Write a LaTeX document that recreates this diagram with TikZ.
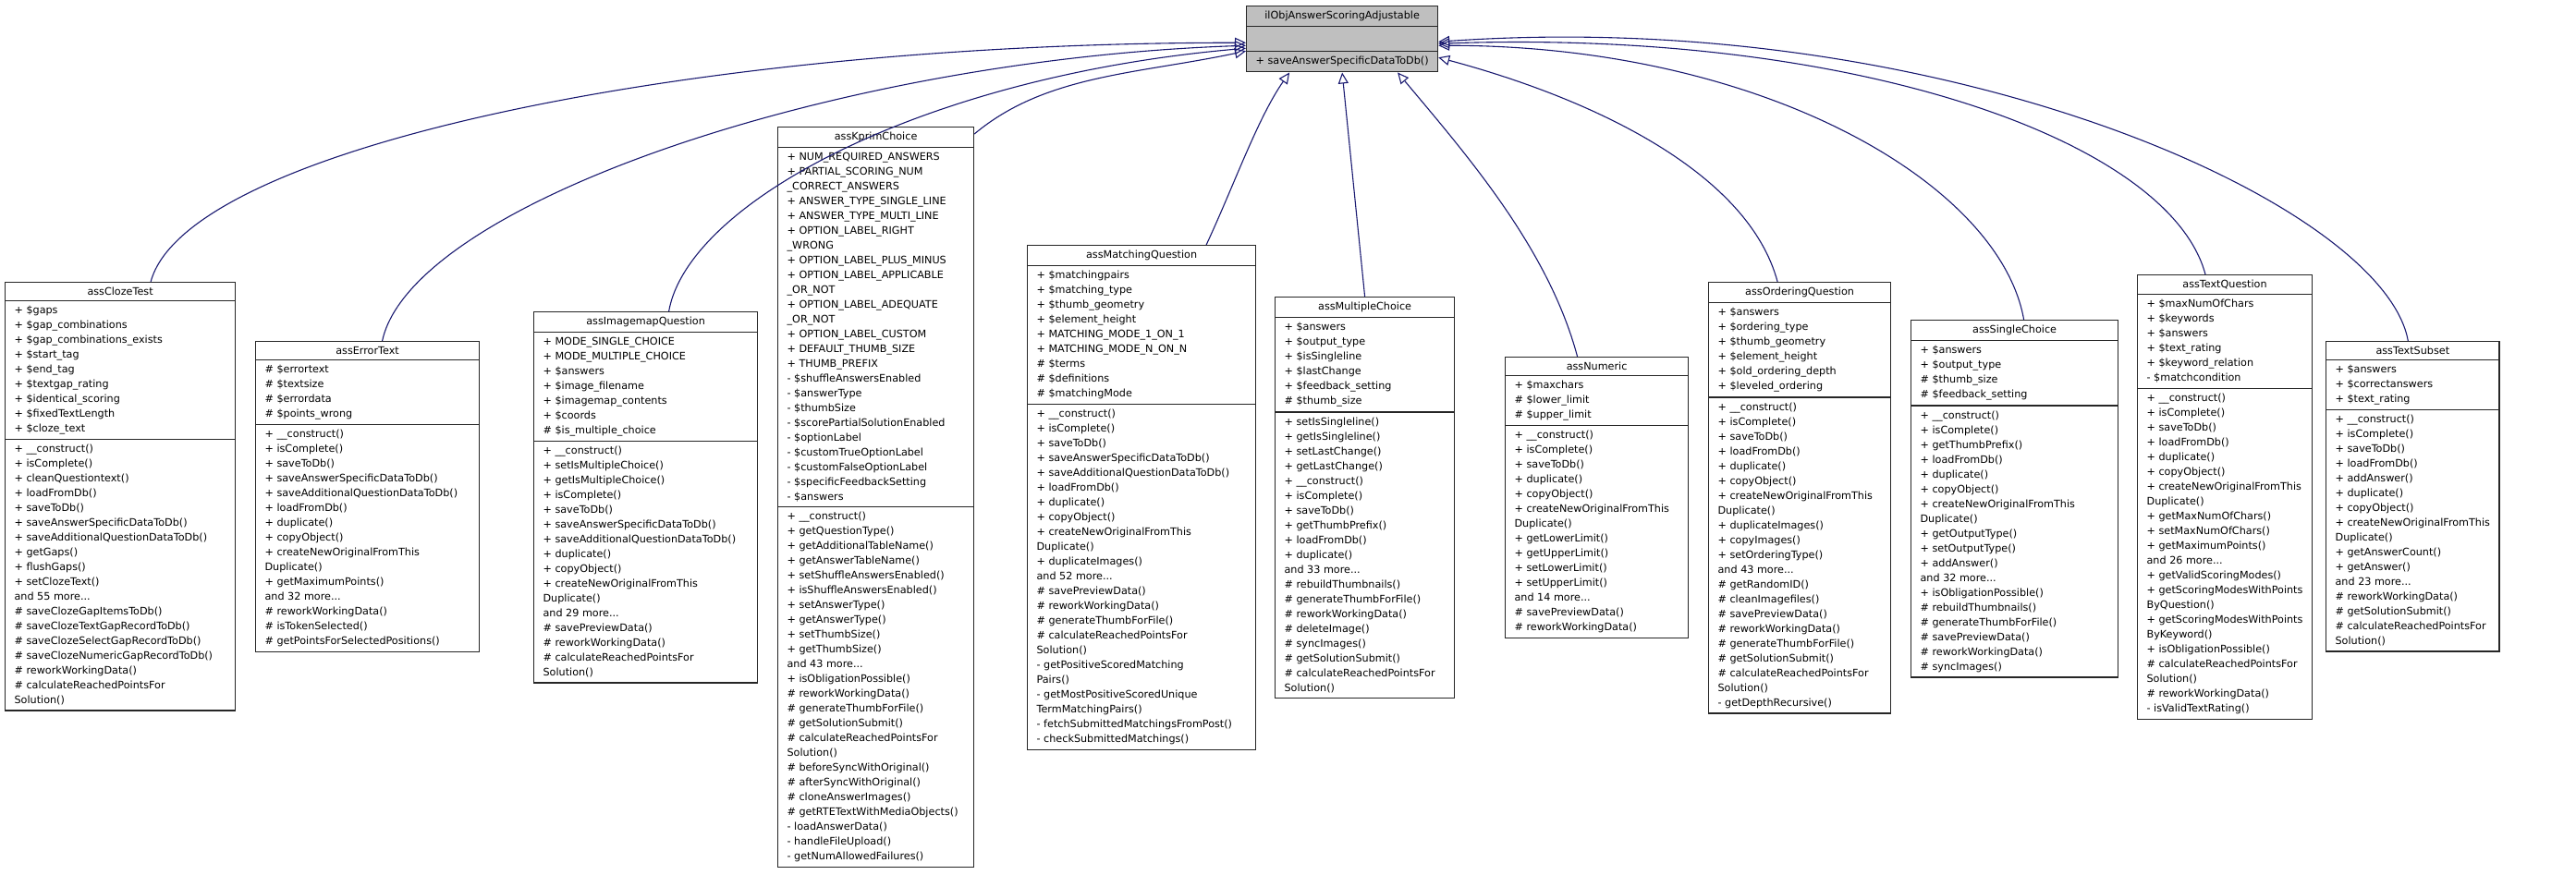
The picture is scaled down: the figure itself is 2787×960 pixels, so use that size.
\documentclass[tikz,border=0pt]{standalone}
\usepackage{fontspec}
\setmainfont{DejaVu Sans}
\usetikzlibrary{shapes.multipart,arrows.meta}
\newcommand\cfont{\fontsize{11.2}{16}\selectfont}
\begin{document}
\begin{tikzpicture}
%defines
  [x=1pt,y=1pt,
cls/.style={rectangle split,rectangle split parts=3,draw=black!85,line width=1.2pt,
fill=white,anchor=north west,align=left,font=\cfont,inner xsep=10pt,inner ysep=5pt,
rectangle split part align={center,left,left}},
iface/.style={cls,fill=black!25},
edge/.style={draw={rgb,255:red,25;green,25;blue,112},line width=1.1pt,
-{Triangle[open,length=12pt,width=11pt]}}]
\useasboundingbox (0,0) rectangle (2787,-960);
%nodes
\node[iface,minimum width=205] (scoring) at (1348,-6)
  {ilObjAnswerScoringAdjustable\nodepart{two}\strut\nodepart{three}+ saveAnswerSpecificDataToDb()};
\node[cls,minimum width=249] (cloze) at (5,-305)
  {assClozeTest
  \nodepart{two}+ \$gaps\\+ \$gap\_combinations\\+ \$gap\_combinations\_exists\\+ \$start\_tag\\+ \$end\_tag\\+ \$textgap\_rating\\+ \$identical\_scoring\\+ \$fixedTextLength\\+ \$cloze\_text
  \nodepart{three}+ \_\_construct()\\+ isComplete()\\+ cleanQuestiontext()\\+ loadFromDb()\\+ saveToDb()\\+ saveAnswerSpecificDataToDb()\\+ saveAdditionalQuestionDataToDb()\\+ getGaps()\\+ flushGaps()\\+ setClozeText()\\and 55 more...\\\# saveClozeGapItemsToDb()\\\# saveClozeTextGapRecordToDb()\\\# saveClozeSelectGapRecordToDb()\\\# saveClozeNumericGapRecordToDb()\\\# reworkWorkingData()\\\# calculateReachedPointsFor\\Solution()};
\node[cls,minimum width=242] (errortext) at (276,-369)
  {assErrorText
  \nodepart{two}\# \$errortext\\\# \$textsize\\\# \$errordata\\\# \$points\_wrong
  \nodepart{three}+ \_\_construct()\\+ isComplete()\\+ saveToDb()\\+ saveAnswerSpecificDataToDb()\\+ saveAdditionalQuestionDataToDb()\\+ loadFromDb()\\+ duplicate()\\+ copyObject()\\+ createNewOriginalFromThis\\Duplicate()\\+ getMaximumPoints()\\and 32 more...\\\# reworkWorkingData()\\\# isTokenSelected()\\\# getPointsForSelectedPositions()};
\node[cls,minimum width=242] (imagemap) at (577,-337)
  {assImagemapQuestion
  \nodepart{two}+ MODE\_SINGLE\_CHOICE\\+ MODE\_MULTIPLE\_CHOICE\\+ \$answers\\+ \$image\_filename\\+ \$imagemap\_contents\\+ \$coords\\\# \$is\_multiple\_choice
  \nodepart{three}+ \_\_construct()\\+ setIsMultipleChoice()\\+ getIsMultipleChoice()\\+ isComplete()\\+ saveToDb()\\+ saveAnswerSpecificDataToDb()\\+ saveAdditionalQuestionDataToDb()\\+ duplicate()\\+ copyObject()\\+ createNewOriginalFromThis\\Duplicate()\\and 29 more...\\\# savePreviewData()\\\# reworkWorkingData()\\\# calculateReachedPointsFor\\Solution()};
\node[cls,minimum width=212] (kprim) at (841,-137)
  {assKprimChoice
  \nodepart{two}+ NUM\_REQUIRED\_ANSWERS\\+ PARTIAL\_SCORING\_NUM\\\_CORRECT\_ANSWERS\\+ ANSWER\_TYPE\_SINGLE\_LINE\\+ ANSWER\_TYPE\_MULTI\_LINE\\+ OPTION\_LABEL\_RIGHT\\\_WRONG\\+ OPTION\_LABEL\_PLUS\_MINUS\\+ OPTION\_LABEL\_APPLICABLE\\\_OR\_NOT\\+ OPTION\_LABEL\_ADEQUATE\\\_OR\_NOT\\+ OPTION\_LABEL\_CUSTOM\\+ DEFAULT\_THUMB\_SIZE\\+ THUMB\_PREFIX\\- \$shuffleAnswersEnabled\\- \$answerType\\- \$thumbSize\\- \$scorePartialSolutionEnabled\\- \$optionLabel\\- \$customTrueOptionLabel\\- \$customFalseOptionLabel\\- \$specificFeedbackSetting\\- \$answers
  \nodepart{three}+ \_\_construct()\\+ getQuestionType()\\+ getAdditionalTableName()\\+ getAnswerTableName()\\+ setShuffleAnswersEnabled()\\+ isShuffleAnswersEnabled()\\+ setAnswerType()\\+ getAnswerType()\\+ setThumbSize()\\+ getThumbSize()\\and 43 more...\\+ isObligationPossible()\\\# reworkWorkingData()\\\# generateThumbForFile()\\\# getSolutionSubmit()\\\# calculateReachedPointsFor\\Solution()\\\# beforeSyncWithOriginal()\\\# afterSyncWithOriginal()\\\# cloneAnswerImages()\\\# getRTETextWithMediaObjects()\\- loadAnswerData()\\- handleFileUpload()\\- getNumAllowedFailures()};
\node[cls,minimum width=247] (matching) at (1111,-265)
  {assMatchingQuestion
  \nodepart{two}+ \$matchingpairs\\+ \$matching\_type\\+ \$thumb\_geometry\\+ \$element\_height\\+ MATCHING\_MODE\_1\_ON\_1\\+ MATCHING\_MODE\_N\_ON\_N\\\# \$terms\\\# \$definitions\\\# \$matchingMode
  \nodepart{three}+ \_\_construct()\\+ isComplete()\\+ saveToDb()\\+ saveAnswerSpecificDataToDb()\\+ saveAdditionalQuestionDataToDb()\\+ loadFromDb()\\+ duplicate()\\+ copyObject()\\+ createNewOriginalFromThis\\Duplicate()\\+ duplicateImages()\\and 52 more...\\\# savePreviewData()\\\# reworkWorkingData()\\\# generateThumbForFile()\\\# calculateReachedPointsFor\\Solution()\\- getPositiveScoredMatching\\Pairs()\\- getMostPositiveScoredUnique\\TermMatchingPairs()\\- fetchSubmittedMatchingsFromPost()\\- checkSubmittedMatchings()};
\node[cls,minimum width=194] (multiple) at (1379,-321)
  {assMultipleChoice
  \nodepart{two}+ \$answers\\+ \$output\_type\\+ \$isSingleline\\+ \$lastChange\\+ \$feedback\_setting\\\# \$thumb\_size
  \nodepart{three}+ setIsSingleline()\\+ getIsSingleline()\\+ setLastChange()\\+ getLastChange()\\+ \_\_construct()\\+ isComplete()\\+ saveToDb()\\+ getThumbPrefix()\\+ loadFromDb()\\+ duplicate()\\and 33 more...\\\# rebuildThumbnails()\\\# generateThumbForFile()\\\# reworkWorkingData()\\\# deleteImage()\\\# syncImages()\\\# getSolutionSubmit()\\\# calculateReachedPointsFor\\Solution()};
\node[cls,minimum width=198] (numeric) at (1628,-386)
  {assNumeric
  \nodepart{two}+ \$maxchars\\\# \$lower\_limit\\\# \$upper\_limit
  \nodepart{three}+ \_\_construct()\\+ isComplete()\\+ saveToDb()\\+ duplicate()\\+ copyObject()\\+ createNewOriginalFromThis\\Duplicate()\\+ getLowerLimit()\\+ getUpperLimit()\\+ setLowerLimit()\\+ setUpperLimit()\\and 14 more...\\\# savePreviewData()\\\# reworkWorkingData()};
\node[cls,minimum width=197] (ordering) at (1848,-305)
  {assOrderingQuestion
  \nodepart{two}+ \$answers\\+ \$ordering\_type\\+ \$thumb\_geometry\\+ \$element\_height\\+ \$old\_ordering\_depth\\+ \$leveled\_ordering
  \nodepart{three}+ \_\_construct()\\+ isComplete()\\+ saveToDb()\\+ loadFromDb()\\+ duplicate()\\+ copyObject()\\+ createNewOriginalFromThis\\Duplicate()\\+ duplicateImages()\\+ copyImages()\\+ setOrderingType()\\and 43 more...\\\# getRandomID()\\\# cleanImagefiles()\\\# savePreviewData()\\\# reworkWorkingData()\\\# generateThumbForFile()\\\# getSolutionSubmit()\\\# calculateReachedPointsFor\\Solution()\\- getDepthRecursive()};
\node[cls,minimum width=224] (single) at (2067,-346)
  {assSingleChoice
  \nodepart{two}+ \$answers\\+ \$output\_type\\\# \$thumb\_size\\\# \$feedback\_setting
  \nodepart{three}+ \_\_construct()\\+ isComplete()\\+ getThumbPrefix()\\+ loadFromDb()\\+ duplicate()\\+ copyObject()\\+ createNewOriginalFromThis\\Duplicate()\\+ getOutputType()\\+ setOutputType()\\+ addAnswer()\\and 32 more...\\+ isObligationPossible()\\\# rebuildThumbnails()\\\# generateThumbForFile()\\\# savePreviewData()\\\# reworkWorkingData()\\\# syncImages()};
\node[cls,minimum width=184] (textquestion) at (2312,-297)
  {assTextQuestion
  \nodepart{two}+ \$maxNumOfChars\\+ \$keywords\\+ \$answers\\+ \$text\_rating\\+ \$keyword\_relation\\- \$matchcondition
  \nodepart{three}+ \_\_construct()\\+ isComplete()\\+ saveToDb()\\+ loadFromDb()\\+ duplicate()\\+ copyObject()\\+ createNewOriginalFromThis\\Duplicate()\\+ getMaxNumOfChars()\\+ setMaxNumOfChars()\\+ getMaximumPoints()\\and 26 more...\\+ getValidScoringModes()\\+ getScoringModesWithPoints\\ByQuestion()\\+ getScoringModesWithPoints\\ByKeyword()\\+ isObligationPossible()\\\# calculateReachedPointsFor\\Solution()\\\# reworkWorkingData()\\- isValidTextRating()};
\node[cls,minimum width=182] (textsubset) at (2516,-369)
  {assTextSubset
  \nodepart{two}+ \$answers\\+ \$correctanswers\\+ \$text\_rating
  \nodepart{three}+ \_\_construct()\\+ isComplete()\\+ saveToDb()\\+ loadFromDb()\\+ addAnswer()\\+ duplicate()\\+ copyObject()\\+ createNewOriginalFromThis\\Duplicate()\\+ getAnswerCount()\\+ getAnswer()\\and 23 more...\\\# reworkWorkingData()\\\# getSolutionSubmit()\\\# calculateReachedPointsFor\\Solution()};
%links
\draw[edge] ([xshift=33]cloze.north) .. controls +(75:150) and +(180:600) .. ([yshift=-4]scoring.west);
\draw[edge] ([xshift=16]errortext.north) .. controls +(78:150) and +(182:450) .. ([yshift=-7]scoring.west);
\draw[edge] ([xshift=25]imagemap.north) .. controls +(80:120) and +(185:350) .. ([yshift=-10]scoring.west);
\draw[edge] ([yshift=-8]kprim.north east) .. controls +(40:100) and +(192:120) .. ([yshift=-13]scoring.west);
\draw[edge] ([xshift=70]matching.north) .. controls +(65:70) and +(-125:60) .. ([xshift=-57]scoring.south);
\draw[edge] (multiple.north) -- (scoring.south);
\draw[edge] ([xshift=-21]numeric.north) .. controls +(105:120) and +(-50:120) .. ([xshift=60]scoring.south);
\draw[edge] ([xshift=-24]ordering.north) .. controls +(105:120) and +(-15:180) .. ([yshift=-20]scoring.east);
\draw[edge] ([xshift=10]single.north) .. controls +(100:150) and +(0:350) .. ([yshift=-7]scoring.east);
\draw[edge] ([xshift=-21]textquestion.north) .. controls +(105:150) and +(2:450) .. ([yshift=-5]scoring.east);
\draw[edge] ([xshift=-5]textsubset.north) .. controls +(100:150) and +(4:550) .. ([yshift=-3]scoring.east);
\end{tikzpicture}
\end{document}
